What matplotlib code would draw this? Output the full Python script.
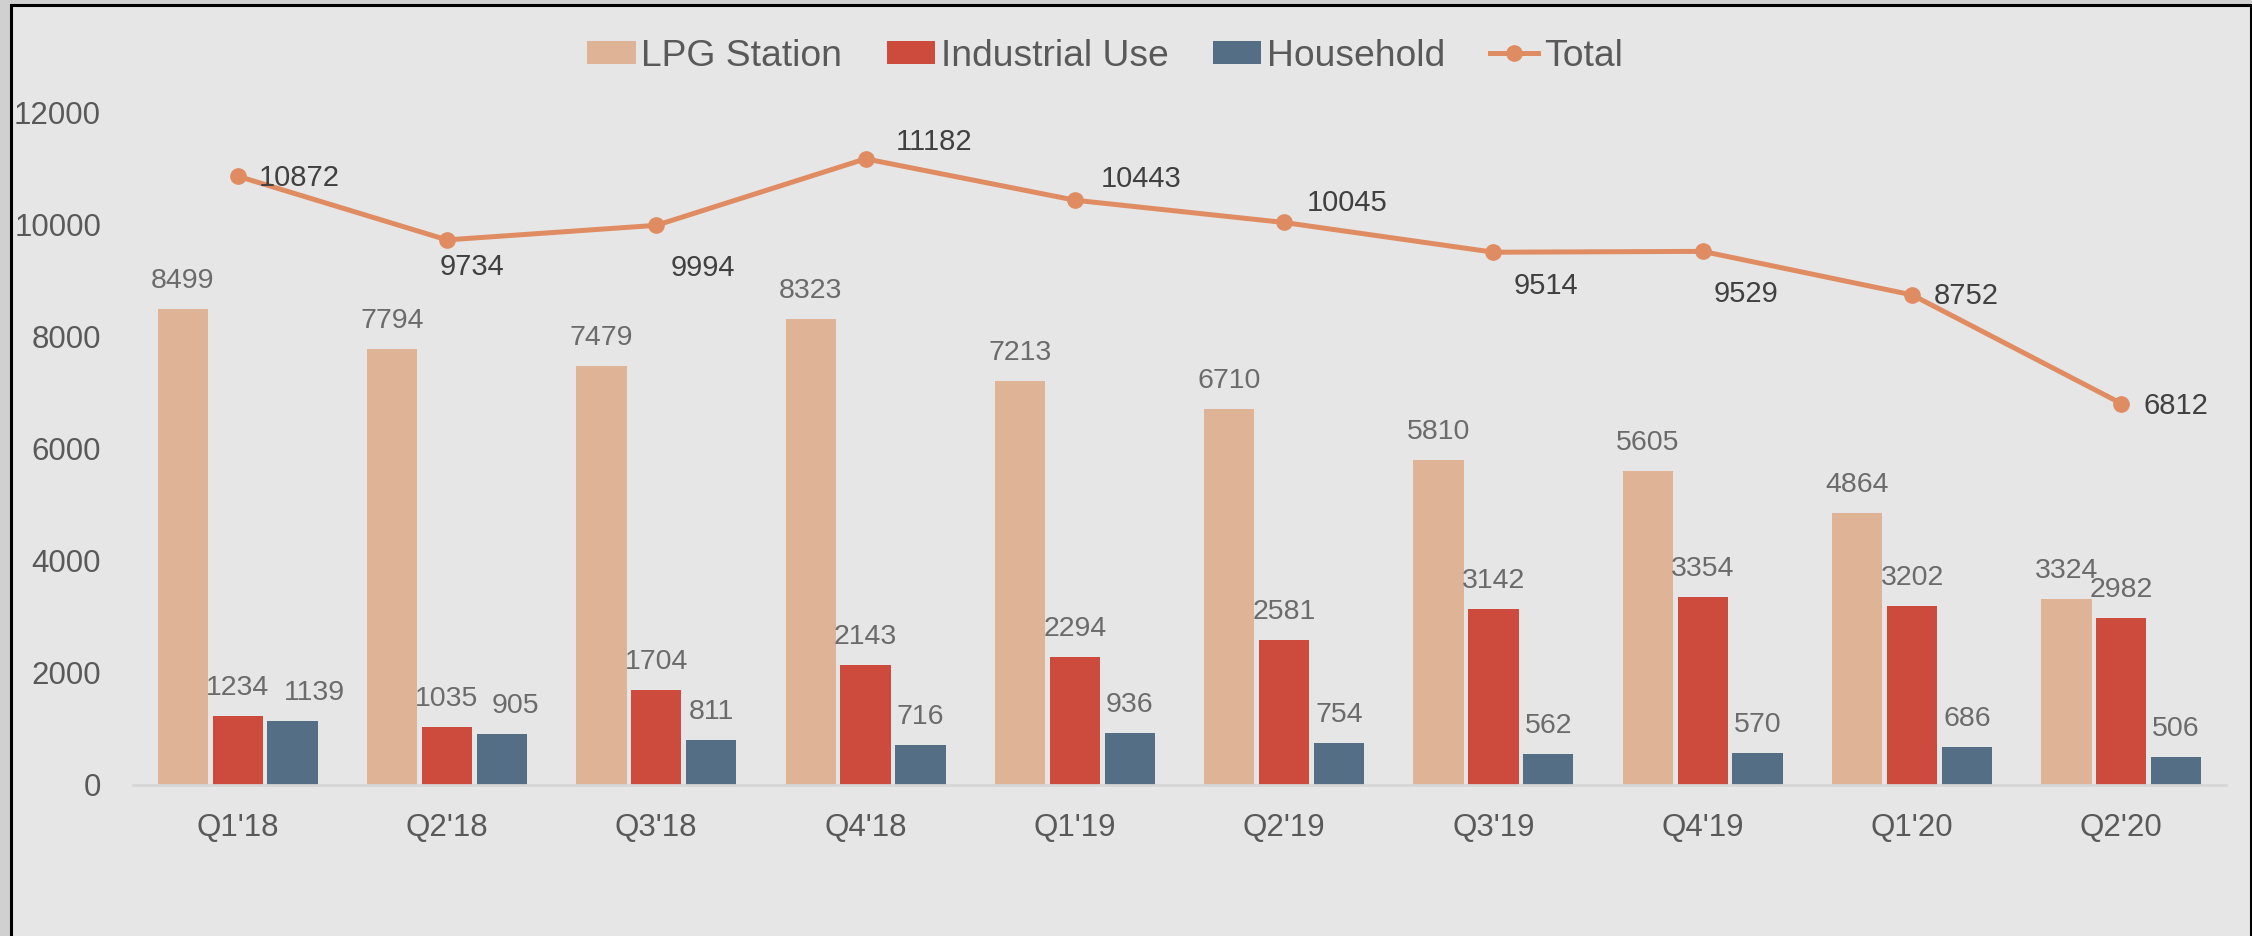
import numpy as np
import matplotlib
matplotlib.use("Agg")
import matplotlib.pyplot as plt
from matplotlib.patches import Rectangle

plt.rcParams["font.family"] = ["Liberation Sans", "DejaVu Sans"]

quarters = ["Q1'18", "Q2'18", "Q3'18", "Q4'18", "Q1'19", "Q2'19", "Q3'19", "Q4'19", "Q1'20", "Q2'20"]
lpg_station = [8499, 7794, 7479, 8323, 7213, 6710, 5810, 5605, 4864, 3324]
industrial = [1234, 1035, 1704, 2143, 2294, 2581, 3142, 3354, 3202, 2982]
household = [1139, 905, 811, 716, 936, 754, 562, 570, 686, 506]
total = [10872, 9734, 9994, 11182, 10443, 10045, 9514, 9529, 8752, 6812]

# placement of the total labels (pixels, relative to the point)
total_label_dx = [62, 25, 47, 69, 66, 63, 52, 43, 54, 55]
total_label_dy = [-2, -27, -43, 17, 21, 19, -34, -43, -1, -2]
# small nudges for household labels that would collide
household_label_dx = [22, 14, 0, 0, 0, 0, 0, 0, 0, 0]

C_LPG = "#dfb496"
C_IND = "#cc4b3d"
C_HH = "#546f85"
C_TOT = "#e08c62"
BG = "#e6e6e6"
TXT = "#595959"

W, H = 2252, 936
fig = plt.figure(figsize=(W / 100, H / 100), dpi=100, facecolor="#d0d0d0")
# chart panel with black frame (bottom edge is cut off)
fig.add_artist(Rectangle((10.5 / W, -0.1), (2250.5 - 10.5) / W, 1.1 - 5.5 / H,
                         transform=fig.transFigure, facecolor=BG, edgecolor="black",
                         linewidth=2.2, zorder=0))

ax = fig.add_axes([133 / W, 1 - 785 / H, (2226 - 133) / W, (785 - 113) / H])
ax.set_facecolor("none")

x = np.arange(len(quarters))
bw = 0.24
off = 0.262
b1 = ax.bar(x - off, lpg_station, bw, color=C_LPG, label="LPG Station", zorder=2)
b2 = ax.bar(x, industrial, bw, color=C_IND, label="Industrial Use", zorder=2)
b3 = ax.bar(x + off, household, bw, color=C_HH, label="Household", zorder=2)
ln, = ax.plot(x, total, color=C_TOT, lw=3.6, marker="o", ms=11, label="Total", zorder=3)

ax.set_xlim(-0.5, len(quarters) - 0.5)
ax.set_ylim(0, 12000)
ax.set_yticks(range(0, 12001, 2000))
ax.set_xticks(x)
ax.set_xticklabels(quarters)
ax.tick_params(axis="both", length=0, labelsize=22.5, colors=TXT)
ax.tick_params(axis="y", pad=23)
ax.tick_params(axis="x", pad=20)
for s in ["top", "right", "left"]:
    ax.spines[s].set_visible(False)
ax.spines["bottom"].set_color("#d6d6d6")
ax.spines["bottom"].set_linewidth(2)

lab_col = "#6b6b6b"
for i in range(len(quarters)):
    ax.annotate(str(lpg_station[i]), (x[i] - off, lpg_station[i]), xytext=(0, 28),
                textcoords="offset pixels", ha="center", va="center", fontsize=20.5, color=lab_col)
    ax.annotate(str(industrial[i]), (x[i], industrial[i]), xytext=(0, 28),
                textcoords="offset pixels", ha="center", va="center", fontsize=20.5, color=lab_col)
    ax.annotate(str(household[i]), (x[i] + off, household[i]), xytext=(household_label_dx[i], 28),
                textcoords="offset pixels", ha="center", va="center", fontsize=20.5, color=lab_col)
    ax.annotate(str(total[i]), (x[i], total[i]), xytext=(total_label_dx[i], total_label_dy[i]),
                textcoords="offset pixels", ha="center", va="center", fontsize=21, color="#404040")

fig.legend(handles=[b1, b2, b3, ln], loc="center", bbox_to_anchor=(1105 / W, 1 - 56 / H),
           ncol=4, frameon=False, fontsize=26.8, labelcolor=TXT,
           handlelength=1.3, handleheight=0.55, handletextpad=0.15, columnspacing=1.2)

fig.savefig("out.png", dpi=100, facecolor=fig.get_facecolor())
